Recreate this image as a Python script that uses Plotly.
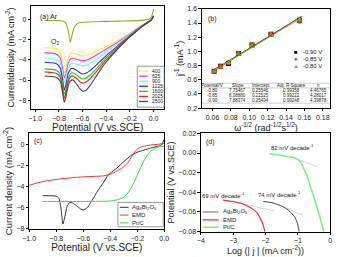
import plotly.graph_objects as go

W, H = 339, 257
def px(x): return x / W
def py(y): return 1 - y / H

# ---------------- Panel (a) data ----------------
pot_a = [-0.92, -0.86, -0.82, -0.79, -0.77, -0.755, -0.74, -0.72, -0.70, -0.68, -0.65, -0.62, -0.60,
         -0.57, -0.54, -0.50, -0.45, -0.40, -0.35, -0.30, -0.25, -0.20, -0.15, -0.10, -0.05, -0.02, 0.0]
rpm_labels = ["400", "625", "900", "1225", "1600", "2025", "2500"]
j_400 = [-2.8, -2.85, -2.95, -3.3, -4.3, -5.3, -4.8, -3.8, -3.4, -3.35, -3.45, -3.55, -3.6,
         -3.55, -3.45, -3.25, -3.0, -2.7, -2.4, -2.1, -1.75, -1.4, -1.0, -0.6, -0.25, -0.05, 0.3]
j_625 = [-3.3, -3.35, -3.45, -3.8, -4.8, -5.8, -5.3, -4.3, -3.9, -3.85, -3.95, -4.05, -4.1,
         -4.05, -3.9, -3.65, -3.3, -2.95, -2.6, -2.25, -1.85, -1.45, -1.05, -0.65, -0.28, -0.07, 0.3]
j_900 = [-3.8, -3.85, -3.95, -4.3, -5.3, -6.3, -5.8, -4.8, -4.4, -4.35, -4.45, -4.55, -4.6,
         -4.55, -4.4, -4.1, -3.65, -3.2, -2.8, -2.4, -1.95, -1.5, -1.1, -0.68, -0.3, -0.08, 0.3]
j_1225 = [-4.25, -4.3, -4.4, -4.8, -5.9, -7.0, -6.4, -5.3, -4.9, -4.85, -5.05, -5.3, -5.4,
          -5.3, -5.1, -4.7, -4.15, -3.6, -3.1, -2.6, -2.1, -1.6, -1.15, -0.7, -0.32, -0.08, 0.3]
j_1600 = [-4.9, -4.95, -5.05, -5.4, -6.4, -7.4, -6.9, -5.8, -5.35, -5.3, -5.5, -5.8, -5.9,
          -5.8, -5.55, -5.1, -4.45, -3.8, -3.25, -2.7, -2.15, -1.65, -1.2, -0.72, -0.33, -0.09, 0.3]
j_2025 = [-5.2, -5.25, -5.35, -5.7, -6.8, -7.8, -7.2, -6.1, -5.65, -5.6, -5.85, -6.2, -6.3,
          -6.2, -5.9, -5.4, -4.7, -4.0, -3.4, -2.8, -2.2, -1.7, -1.2, -0.74, -0.34, -0.09, 0.3]
j_2500 = [-5.6, -5.65, -5.75, -6.1, -7.2, -8.2, -7.6, -6.5, -6.05, -6.0, -6.4, -6.9, -7.1,
          -7.0, -6.6, -5.9, -5.0, -4.2, -3.55, -2.9, -2.3, -1.75, -1.25, -0.76, -0.35, -0.1, 0.3]
series_a = [j_400, j_625, j_900, j_1225, j_1600, j_2025, j_2500]
colors_a = ["#f5f51e", "#ff33ff", "#66ffff", "#2a2ae0", "#22cc22", "#ff2020", "#444444"]

pot_ar = [-0.92, -0.85, -0.80, -0.76, -0.74, -0.72, -0.705, -0.69, -0.67, -0.64, -0.60, -0.50,
          -0.40, -0.30, -0.20, -0.10, -0.06, -0.04, -0.02, -0.01, 0.0]
j_ar = [-0.12, -0.13, -0.15, -0.2, -0.4, -1.2, -2.3, -1.6, -0.8, -0.4, -0.3, -0.25,
        -0.22, -0.2, -0.17, -0.12, -0.05, 0.0, 0.2, 0.5, 1.0]

# ---------------- Panel (b) data ----------------
w_inv = [0.0618, 0.0687, 0.0773, 0.0883, 0.1030, 0.1236, 0.1545]
jinv_m090 = [0.72, 0.79, 0.83, 0.97, 1.09, 1.24, 1.44]
jinv_m085 = [0.72, 0.79, 0.84, 0.97, 1.09, 1.24, 1.43]
jinv_m080 = [0.72, 0.78, 0.84, 0.96, 1.08, 1.23, 1.45]
kl_names = ["-0.90 V", "-0.85 V", "-0.80 V"]
kl_colors = ["#111111", "#ee2222", "#55cc22"]
kl_symbols = ["square", "circle", "triangle-up"]
table_header = ["Potential/V", "Slope", "Intercept", "Adj. R-Square", "n"]
tab_pot = ["-0.80", "-0.85", "-0.90"]
tab_slope = [7.75467, 8.08880, 7.88374]
tab_intercept = [0.25546, 0.22525, 0.25494]
tab_r2 = [0.99358, 0.99222, 0.99248]
tab_n = [4.46765, 4.28017, 4.39878]
fit_x = [0.060, 0.157]

# ---------------- Panel (c) data ----------------
pot_ag = [-0.9, -0.85, -0.8, -0.78, -0.765, -0.75, -0.735, -0.72, -0.7, -0.68, -0.65, -0.62, -0.6,
          -0.57, -0.55, -0.52, -0.5, -0.45, -0.42, -0.4, -0.35, -0.3, -0.25, -0.2, -0.15, -0.1,
          -0.05, -0.02, 0.0]
j_ag = [-4.85, -4.85, -4.9, -5.1, -6.0, -7.55, -6.8, -5.9, -5.5, -5.55, -5.8, -6.1, -6.2,
        -6.0, -5.6, -5.0, -4.55, -3.6, -2.95, -2.7, -2.2, -1.6, -1.05, -0.7, -0.5, -0.3,
        -0.15, 0.0, 0.55]
pot_emd = [-1.0, -0.9, -0.8, -0.7, -0.6, -0.5, -0.45, -0.4, -0.35, -0.3, -0.27, -0.24, -0.22,
           -0.2, -0.17, -0.14, -0.1, -0.05, 0.0]
j_emd = [-3.85, -3.5, -3.3, -3.15, -3.05, -3.0, -2.95, -2.8, -2.5, -2.1, -1.7, -1.1, -0.7,
         -0.4, -0.2, -0.1, 0.0, 0.05, 0.15]
pot_pt = [-0.9, -0.8, -0.7, -0.6, -0.5, -0.45, -0.4, -0.35, -0.3, -0.27, -0.24, -0.21, -0.18,
          -0.15, -0.12, -0.09, -0.05, 0.0]
j_pt = [-5.4, -5.4, -5.4, -5.4, -5.39, -5.38, -5.35, -5.25, -5.0, -4.6, -4.0, -3.2, -2.3,
        -1.5, -0.9, -0.5, -0.25, -0.1]
names_c = ["Ag<sub>4</sub>Bi<sub>2</sub>O<sub>5</sub>", "EMD", "Pt/C"]
colors_c = ["#333333", "#ee3333", "#33dd33"]

# ---------------- Panel (d) data ----------------
logj_ag = [-2.07, -1.8, -1.48, -1.3, -1.19, -1.1, -1.04, -0.99, -0.96]
e_ag = [-0.0493, -0.0505, -0.0543, -0.058, -0.0615, -0.065, -0.069, -0.0745, -0.08]
logj_emd = [-3.31, -3.0, -2.72, -2.5, -2.37, -2.25, -2.17, -2.08, -2.02]
e_emd = [-0.048, -0.0495, -0.0516, -0.055, -0.0576, -0.0615, -0.066, -0.0725, -0.08]
logj_pt = [-1.88, -1.6, -1.3, -1.1, -1.0, -0.9, -0.8, -0.7, -0.6, -0.5, -0.4, -0.3, -0.2]
e_pt = [-0.001, -0.002, -0.0035, -0.005, -0.0065, -0.01, -0.017, -0.025, -0.035, -0.045,
        -0.056, -0.067, -0.08]
tan_ag_x = [-1.48, -0.84]
tan_ag_y = [-0.054, -0.0635]
tan_emd_x = [-2.72, -1.73]
tan_emd_y = [-0.0516, -0.059]
tan_pt_x = [-1.2, -0.4]
tan_pt_y = [-0.004, -0.014]
tafel_labels = ["69 mV decade<sup>-1</sup>", "74 mV decade<sup>-1</sup>", "82 mV decade<sup>-1</sup>"]
colors_d = ["#444444", "#ee3333", "#80ee80"]

FONT = "Liberation Sans, Arial, sans-serif"
fig = go.Figure()

# Panel a traces
fig.add_trace(go.Scatter(x=pot_ar, y=j_ar, mode="lines", line=dict(color="#a3a32a", width=1.1, shape="spline", smoothing=0.6),
                         xaxis="x", yaxis="y", showlegend=False))
for ys, c in zip(series_a, colors_a):
    fig.add_trace(go.Scatter(x=pot_a, y=ys, mode="lines", line=dict(color=c, width=1.1, shape="spline", smoothing=0.6),
                             xaxis="x", yaxis="y", showlegend=False))

# Panel b traces
for ys, c, s in zip([jinv_m090, jinv_m085, jinv_m080], kl_colors, kl_symbols):
    fig.add_trace(go.Scatter(x=w_inv, y=ys, mode="markers", marker=dict(color=c, symbol=s, size=5),
                             xaxis="x2", yaxis="y2", showlegend=False))
for sl, ic, c in zip(tab_slope[::-1], tab_intercept[::-1], kl_colors):
    fig.add_trace(go.Scatter(x=fit_x, y=[ic + sl * v for v in fit_x], mode="lines",
                             line=dict(color=c, width=0.8), xaxis="x2", yaxis="y2", showlegend=False))

# Panel c traces
for xs, ys, c in zip([pot_ag, pot_emd, pot_pt], [j_ag, j_emd, j_pt], colors_c):
    fig.add_trace(go.Scatter(x=xs, y=ys, mode="lines", line=dict(color=c, width=1, shape="spline", smoothing=0.6),
                             xaxis="x3", yaxis="y3", showlegend=False))

# Panel d traces
for xs, ys in zip([tan_ag_x, tan_emd_x, tan_pt_x], [tan_ag_y, tan_emd_y, tan_pt_y]):
    fig.add_trace(go.Scatter(x=xs, y=ys, mode="lines", line=dict(color="#c8c8c8", width=0.8),
                             xaxis="x4", yaxis="y4", showlegend=False))
for xs, ys, c, w in zip([logj_ag, logj_emd, logj_pt], [e_ag, e_emd, e_pt], colors_d, [1, 1.2, 1.6]):
    fig.add_trace(go.Scatter(x=xs, y=ys, mode="lines", line=dict(color=c, width=w, shape="spline", smoothing=0.6),
                             xaxis="x4", yaxis="y4", showlegend=False))

def ax(domain, rng, dtick, fmt, title, anchor, tick0=None, standoff=2, tsize=9):
    d = dict(domain=domain, range=rng, dtick=dtick, tickformat=fmt, anchor=anchor,
             showline=True, mirror=True, linecolor="black", linewidth=0.8,
             ticks="outside", ticklen=2.5, tickwidth=0.8, tickcolor="black",
             tickfont=dict(size=7, color="#222", family=FONT),
             showgrid=False, zeroline=False,
             title=dict(text=title, font=dict(size=tsize, color="#222", family=FONT), standoff=standoff))
    if tick0 is not None:
        d["tick0"] = tick0
    return d

fig.update_layout(
    width=W, height=H, margin=dict(l=0, r=0, t=0, b=0),
    paper_bgcolor="white", plot_bgcolor="white", showlegend=False,
    font=dict(family=FONT),
    xaxis=ax([px(25), px(163)], [-1.035, 0.09], 0.2, ".1f", "Potential (V vs.SCE)", "y", tick0=0, standoff=1, tsize=10),
    yaxis=ax([py(108), py(2)], [-8.86, 1.3], 2, "d", "Currentdensity (mA cm<sup>-2</sup>)", "x"),
    xaxis2=ax([px(202), px(335)], [0.0484, 0.188], 0.02, ".2f",
              "ω<sup>-1/2</sup> (rad<sup>-1/2</sup>s<sup>1/2</sup>)", "y2", tick0=0),
    yaxis2=ax([py(107), py(5)], [0.2, 1.6], 0.2, ".1f", "j<sup>-1</sup> (mA<sup>-1</sup>)", "x2", tick0=0),
    xaxis3=ax([px(23), px(163)], [-1.0, 0.0], 0.2, ".1f", "Potential (V vs.SCE)", "y3", tick0=0, standoff=1, tsize=10),
    yaxis3=ax([py(231), py(133)], [-8.0, 1.1], 2, "d", "Current density (mA cm<sup>-2</sup>)", "x3", tsize=9.5),
    xaxis4=ax([px(201), px(335)], [-4, 0], 1, "d", "Log (| j | (mA cm<sup>-2</sup>))", "y4", tick0=0),
    yaxis4=ax([py(234), py(133)], [-0.08, 0.02], 0.02, ".2f", "Potential (V vs.SCE)", "x4", tick0=0),
)

ann = []
shapes = []
def txt(x, y, t, xref, yref, size=7, xanchor="center", color="#222"):
    ann.append(dict(x=x, y=y, text=t, xref=xref, yref=yref, showarrow=False, xanchor=xanchor,
                    yanchor="middle", font=dict(size=size, color=color, family=FONT)))

# Panel a labels
txt(-0.98, 0.2, "(a) Ar", "x", "y", 7, "left")
txt(-0.885, -2.3, "O<sub>2</sub>", "x", "y", 7, "left")
# Legend a
shapes.append(dict(type="rect", xref="paper", yref="paper", x0=px(135), x1=px(163), y0=py(106), y1=py(64),
                   line=dict(color="#555", width=0.6), fillcolor="white", layer="above"))
for i, (lab, c) in enumerate(zip(rpm_labels, colors_a)):
    yy = 69 + i * 5.2
    shapes.append(dict(type="line", xref="paper", yref="paper", x0=px(137), x1=px(146), y0=py(yy), y1=py(yy),
                       line=dict(color=c, width=1.3), layer="above"))
    txt(px(148), py(yy), lab, "paper", "paper", 5, "left")

# Panel b labels
txt(0.053, 1.46, "(b)", "x2", "y2", 7, "left")
for i, (nm, c, sym) in enumerate(zip(kl_names, kl_colors, ["■", "●", "▲"])):
    yy = [0.99, 0.895, 0.79][i]
    txt(0.1505, yy, sym, "x2", "y2", 6, "center", c)
    txt(0.156, yy, nm, "x2", "y2", 6, "left")
# table
col_x = [0.0595, 0.0875, 0.1125, 0.1455, 0.1755]
for hx, h in zip(col_x, table_header):
    txt(hx, 0.515, h, "x2", "y2", 4.5)
rows = list(zip(tab_pot, tab_slope, tab_intercept, tab_r2, tab_n))
for r, row in enumerate(rows):
    yy = [0.445, 0.375, 0.305][r]
    vals = [row[0], f"{row[1]:.5f}", f"{row[2]:.5f}", f"{row[3]:.5f}", f"{row[4]:.5f}"]
    for hx, v in zip(col_x, vals):
        txt(hx, yy, v, "x2", "y2", 4.5)
for yl in [0.55, 0.485, 0.27]:
    shapes.append(dict(type="line", xref="x2", yref="y2", x0=0.0484, x1=0.188, y0=yl, y1=yl,
                       line=dict(color="#999", width=0.5)))

# Panel c labels
txt(-0.98, 0.35, "(c)", "x3", "y3", 7, "left")
shapes.append(dict(type="rect", xref="paper", yref="paper", x0=px(115), x1=px(162), y0=py(229), y1=py(204),
                   line=dict(color="#555", width=0.6), fillcolor="white", layer="above"))
for i, (nm, c) in enumerate(zip(names_c, colors_c)):
    yy = 209 + i * 8
    shapes.append(dict(type="line", xref="paper", yref="paper", x0=px(117), x1=px(126), y0=py(yy), y1=py(yy),
                       line=dict(color=c, width=1), layer="above"))
    txt(px(128), py(yy), nm, "paper", "paper", 6, "left")

# Panel d labels
txt(-3.9, 0.011, "(d)", "x4", "y4", 7, "left")
txt(-3.29, -0.0425, tafel_labels[0], "x4", "y4", 6)
txt(-1.56, -0.0415, tafel_labels[1], "x4", "y4", 6)
txt(-1.15, 0.006, tafel_labels[2], "x4", "y4", 6)
for i, (nm, c, w) in enumerate(zip(names_c, colors_d, [0.8, 1.3, 1.6])):
    yy = [-0.06, -0.068, -0.0755][i]
    shapes.append(dict(type="line", xref="x4", yref="y4", x0=-3.95, x1=-3.45, y0=yy, y1=yy,
                       line=dict(color=c, width=w)))
    txt(-3.38, yy, nm, "x4", "y4", 6, "left")

fig.update_layout(annotations=ann, shapes=shapes)
fig.write_html("out.html")
